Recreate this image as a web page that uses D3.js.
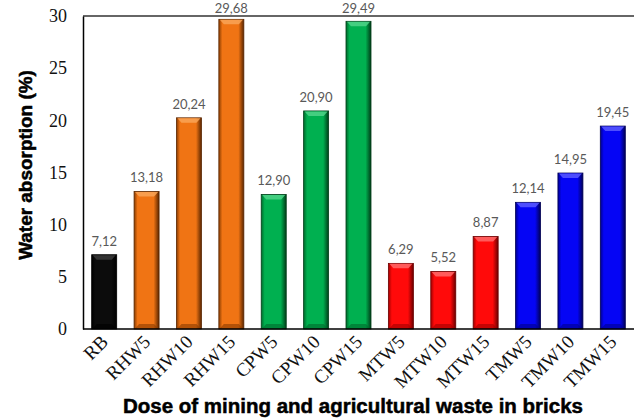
<!DOCTYPE html>
<html>
<head>
<meta charset="utf-8">
<script src="https://cdn.jsdelivr.net/npm/d3@7"></script>
<style>
  html, body { margin: 0; padding: 0; background: #fff; }
  svg { display: block; }
</style>
</head>
<body>
<svg id="chart" width="634" height="419"></svg>
<script>
// Water absorption of bricks by waste dose
const categories = ["RB", "RHW5", "RHW10", "RHW15", "CPW5", "CPW10", "CPW15",
                    "MTW5", "MTW10", "MTW15", "TMW5", "TMW10", "TMW15"];
const values = [7.12, 13.18, 20.24, 29.68, 12.90, 20.90, 29.49,
                6.29, 5.52, 8.87, 12.14, 14.95, 19.45];
const groups = ["RB", "RHW", "RHW", "RHW", "CPW", "CPW", "CPW",
                "MTW", "MTW", "MTW", "TMW", "TMW", "TMW"];
const yTicks = [0, 5, 10, 15, 20, 25, 30];

const palette = {
  RB:  { base: "#0c0c0c", light: "#3a3a3a", dark: "#000000", edge: "#000000" },
  RHW: { base: "#f07414", light: "#f9a457", dark: "#8a3c00", edge: "#5a2600" },
  CPW: { base: "#00b050", light: "#4fd488", dark: "#006a2c", edge: "#003d18" },
  MTW: { base: "#ff0a0a", light: "#ff6a6a", dark: "#a00000", edge: "#6a0000" },
  TMW: { base: "#0505f5", light: "#5a5aff", dark: "#00008c", edge: "#000055" }
};

const serif = "'Liberation Serif', 'Times New Roman', serif";
const heavy = "'Liberation Sans', Arial, sans-serif";

const svg = d3.select("#chart");
const margin = { left: 83, top: 16, right: 0 };
const W = 634;

const x = d3.scaleBand()
  .domain(categories)
  .range([margin.left, W - margin.right])
  .paddingInner(0.41)
  .paddingOuter(0.205);

const y = d3.scaleLinear().domain([0, 30]).range([329, margin.top]);

// gradients for the bevelled bar look
const defs = svg.append("defs");
Object.entries(palette).forEach(([k, c]) => {
  const g = defs.append("linearGradient").attr("id", "g-" + k)
    .attr("x1", "0").attr("x2", "1").attr("y1", "0").attr("y2", "0");
  g.append("stop").attr("offset", "0%").attr("stop-color", c.dark);
  g.append("stop").attr("offset", "14%").attr("stop-color", c.base);
  g.append("stop").attr("offset", "78%").attr("stop-color", c.base);
  g.append("stop").attr("offset", "100%").attr("stop-color", c.edge);
});

// frame: top line, left axis
svg.append("line")
  .attr("x1", margin.left).attr("x2", W)
  .attr("y1", y(30)).attr("y2", y(30))
  .attr("stroke", "#333").attr("stroke-width", 1.5);

const yAxis = d3.axisLeft(y).tickValues(yTicks).tickSize(0).tickPadding(16);
const gy = svg.append("g").attr("transform", `translate(${margin.left},0)`).call(yAxis);
gy.select(".domain").attr("stroke", "#000").attr("stroke-width", 1.5);
gy.selectAll("text")
  .style("font-family", serif)
  .style("font-size", "18px")
  .attr("fill", "#111");

// bars
const bar = svg.append("g").selectAll("g").data(categories).join("g");
bar.append("rect")
  .attr("x", d => x(d))
  .attr("y", (d, i) => y(values[i]))
  .attr("width", x.bandwidth())
  .attr("height", (d, i) => y(0) - y(values[i]))
  .attr("fill", (d, i) => `url(#g-${groups[i]})`)
  .attr("stroke", (d, i) => palette[groups[i]].edge)
  .attr("stroke-width", 0.8);

// top bevel
bar.append("path")
  .attr("d", (d, i) => {
    const x0 = x(d), w = x.bandwidth(), t = y(values[i]), b = 5;
    return `M${x0 + 1},${t + 0.5}L${x0 + w - 1},${t + 0.5}L${x0 + w - b},${t + b}L${x0 + b},${t + b}Z`;
  })
  .attr("fill", (d, i) => palette[groups[i]].light)
  .attr("opacity", 0.85);

// bottom bevel
bar.append("path")
  .attr("d", (d, i) => {
    const x0 = x(d), w = x.bandwidth(), bt = y(0), b = 5;
    return `M${x0 + 1},${bt - 0.5}L${x0 + w - 1},${bt - 0.5}L${x0 + w - b},${bt - b}L${x0 + b},${bt - b}Z`;
  })
  .attr("fill", (d, i) => palette[groups[i]].dark)
  .attr("opacity", 0.6);

// value labels (comma decimal separator)
const fmt = v => d3.format(".2f")(v).replace(".", ",");
bar.append("text")
  .attr("x", d => x(d) + x.bandwidth() / 2)
  .attr("y", (d, i) => Math.max(13, y(values[i]) - 9))
  .attr("text-anchor", "middle")
  .style("font-family", "Lato, 'Open Sans', sans-serif")
  .style("font-size", "13px")
  .attr("fill", "#595959")
  .text((d, i) => fmt(values[i]));

// baseline drawn over the bars
svg.append("line")
  .attr("x1", margin.left).attr("x2", W)
  .attr("y1", y(0)).attr("y2", y(0))
  .attr("stroke", "#000").attr("stroke-width", 1.5);

// category labels, rotated
svg.append("g").selectAll("text").data(categories).join("text")
  .attr("transform", d => `translate(${x(d) + x.bandwidth() / 2 + 5},${y(0) + 14}) rotate(-45)`)
  .attr("text-anchor", "end")
  .style("font-family", serif)
  .style("font-size", "19px")
  .attr("fill", "#111")
  .text(d => d);

// axis titles
const xt = svg.append("text")
  .attr("x", 353).attr("y", 413)
  .attr("text-anchor", "middle")
  .style("font-family", heavy)
  .style("font-weight", "bold")
  .style("font-size", "17px")
  .attr("fill", "#000")
  .attr("stroke", "#000").attr("stroke-width", 0.5)
  .text("Dose of mining and agricultural waste in bricks");
// fit the title to its span under the plot
const xtw = xt.node().getComputedTextLength();
xt.style("font-size", (17 * 460 / xtw).toFixed(2) + "px");

const yt = svg.append("text")
  .attr("transform", "translate(32,165) rotate(-90)")
  .attr("text-anchor", "middle")
  .style("font-family", heavy)
  .style("font-weight", "bold")
  .style("font-size", "18px")
  .attr("fill", "#000")
  .attr("stroke", "#000").attr("stroke-width", 0.5)
  .text("Water absorption (%)");
const ytw = yt.node().getComputedTextLength();
yt.style("font-size", (18 * 190 / ytw).toFixed(2) + "px");
</script>
</body>
</html>
